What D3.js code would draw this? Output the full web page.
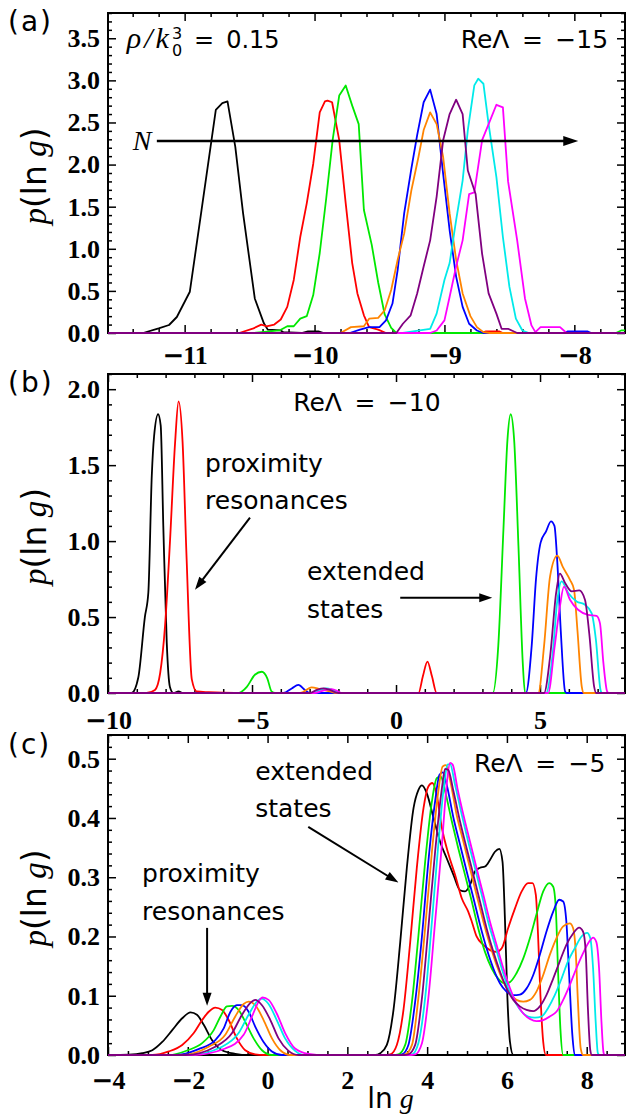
<!DOCTYPE html>
<html>
<head>
<meta charset="utf-8">
<script src="https://cdn.jsdelivr.net/npm/d3@7"></script>
<style>
  html, body { margin: 0; padding: 0; background: #fff; }
  svg { display: block; }
</style>
</head>
<body>
<svg id="chart" width="626" height="1119"></svg>
<script>
// ---------------------------------------------------------------------------
// Distributions p(ln g) for increasing system size N (black -> magenta).
// Each series is a list of [ln g, p(ln g)] points.
// ---------------------------------------------------------------------------
const sizeOrder = ["N1", "N2", "N3", "N4", "N5", "N6", "N7", "N8"];

// ---- (a) rho/k0^3 = 0.15, Re Lambda = -15 ----
const aBlack = [[-11.6,0],[-11.32,0],[-11.2,0.055],[-11.12,0.095],[-11.06,0.19],[-10.96,0.49],[-10.87,1.46],[-10.76,2.65],[-10.71,2.73],[-10.67,2.75],[-10.61,2.21],[-10.55,1.42],[-10.46,0.41],[-10.39,0.115],[-10.36,0.04],[-10.26,0.03],[-10.24,0.01],[-10.1,0],[-10.05,0.02],[-9.97,0.02],[-9.93,0],[-7.6,0]];
const aRed = [[-11.6,0],[-10.58,0],[-10.47,0.055],[-10.41,0.1],[-10.37,0.08],[-10.31,0.1],[-10.26,0.16],[-10.21,0.31],[-10.16,0.63],[-10.11,1.14],[-10.06,1.54],[-10.01,2.01],[-9.96,2.62],[-9.92,2.75],[-9.9,2.76],[-9.865,2.74],[-9.81,2.29],[-9.76,1.54],[-9.71,0.83],[-9.67,0.47],[-9.62,0.21],[-9.58,0.07],[-9.51,0.04],[-9.45,0],[-8.72,0],[-8.68,0.02],[-8.58,0.02],[-8.55,0],[-7.6,0]];
const aGreen = [[-11.6,0],[-10.47,0],[-10.27,0.03],[-10.21,0.08],[-10.16,0.08],[-10.11,0.17],[-10.06,0.2],[-10.01,0.45],[-9.96,0.95],[-9.91,1.6],[-9.86,2.3],[-9.81,2.82],[-9.76,2.94],[-9.71,2.7],[-9.66,2.48],[-9.62,1.46],[-9.56,1.05],[-9.51,0.6],[-9.46,0.22],[-9.41,0.06],[-9.37,0],[-7.68,0],[-7.64,0.03],[-7.6,0.03]];
const aBlue = [[-11.6,0],[-9.73,0],[-9.65,0.04],[-9.58,0.07],[-9.5,0.07],[-9.45,0.15],[-9.4,0.35],[-9.36,0.75],[-9.31,1.42],[-9.255,1.95],[-9.21,2.35],[-9.16,2.74],[-9.11,2.89],[-9.06,2.6],[-9.01,1.89],[-8.96,1.22],[-8.91,0.67],[-8.86,0.31],[-8.81,0.11],[-8.75,0.03],[-8.7,0],[-8.08,0],[-8.05,0.02],[-7.9,0.02],[-7.87,0],[-7.6,0]];
const aOrange = [[-11.6,0],[-9.8,0],[-9.72,0.07],[-9.62,0.08],[-9.58,0.17],[-9.51,0.18],[-9.46,0.27],[-9.41,0.51],[-9.36,0.87],[-9.31,1.18],[-9.255,1.69],[-9.2,2.09],[-9.16,2.41],[-9.11,2.62],[-9.06,2.48],[-9.01,2.09],[-8.96,1.42],[-8.91,0.87],[-8.86,0.47],[-8.8,0.2],[-8.75,0.07],[-8.7,0.01],[-8.65,0],[-7.6,0]];
const aPurple = [[-11.6,0],[-9.37,0],[-9.32,0.11],[-9.26,0.21],[-9.21,0.47],[-9.16,0.79],[-9.11,1.1],[-9.06,1.62],[-9.01,2.29],[-8.96,2.6],[-8.91,2.77],[-8.86,2.6],[-8.82,1.93],[-8.76,1.65],[-8.71,0.94],[-8.66,0.47],[-8.6,0.23],[-8.56,0.05],[-8.51,0.05],[-8.44,0],[-7.6,0]];
const aCyan = [[-11.6,0],[-9.32,0],[-9.19,0.03],[-9.11,0.05],[-9.06,0.23],[-9.0,0.63],[-8.96,0.83],[-8.91,1.34],[-8.86,1.81],[-8.82,2.41],[-8.77,2.94],[-8.74,3.02],[-8.7,2.96],[-8.66,2.48],[-8.6,1.85],[-8.55,1.14],[-8.5,0.55],[-8.45,0.17],[-8.4,0.03],[-8.35,0],[-7.6,0]];
const aMagenta = [[-11.6,0],[-9.11,0],[-9.06,0.03],[-9.0,0.15],[-8.96,0.43],[-8.91,0.79],[-8.86,1.1],[-8.81,1.65],[-8.77,1.67],[-8.71,2.29],[-8.66,2.48],[-8.6,2.71],[-8.55,2.68],[-8.51,1.8],[-8.44,1.1],[-8.38,0.41],[-8.33,0.09],[-8.3,0.01],[-8.26,0.07],[-8.11,0.07],[-8.06,0],[-7.6,0]];

// ---- (b) Re Lambda = -10 ----
const bBlack = [[-10,0],[-9.18,0],[-8.95,0.1],[-8.72,0.5],[-8.6,0.66],[-8.48,1.43],[-8.4,1.69],[-8.26,1.835],[-8.17,1.76],[-8.08,1.1],[-7.96,0.33],[-7.85,0.04],[-7.73,0],[-7.55,0.01],[-7.4,0],[8,0]];
const bRed = [[-10,0],[-8.66,0],[-8.37,0.02],[-8.19,0.13],[-8.02,0.44],[-7.85,0.99],[-7.67,1.65],[-7.55,1.92],[-7.41,1.65],[-7.27,0.88],[-7.09,0.09],[-6.92,0.01],[-6.5,0.005],[-5.6,0],[0.78,0],[0.93,0.108],[1.09,0.207],[1.25,0.108],[1.41,0],[8,0]];
const bGreen = [[-10,0],[-5.47,0],[-5.18,0.04],[-4.9,0.12],[-4.66,0.14],[-4.47,0.097],[-4.32,0.01],[-4.2,0],[3.36,0],[3.55,0.31],[3.73,1.08],[3.87,1.67],[3.98,1.835],[4.1,1.67],[4.25,0.97],[4.4,0.2],[4.48,0],[8,0]];
const bBlue = [[-10,0],[-3.91,0],[-3.62,0.03],[-3.39,0.053],[-3.16,0.02],[-2.99,0],[4.51,0],[4.71,0.31],[4.86,0.75],[5.02,0.99],[5.21,1.064],[5.38,1.13],[5.5,1.1],[5.6,0.86],[5.72,0.41],[5.87,0.01],[5.92,0],[8,0]];
const bOrange = [[-10,0],[-3.33,0],[-2.93,0.037],[-2.64,0.025],[-2.29,0.01],[-2.06,0],[4.94,0],[5.14,0.31],[5.35,0.77],[5.6,0.904],[5.79,0.83],[6.04,0.745],[6.18,0.68],[6.3,0.41],[6.45,0.04],[6.52,0],[8,0]];
const bPurple = [[-10,0],[-3.0,0],[-2.75,0.02],[-2.52,0.03],[-2.3,0.02],[-2.0,0],[5.14,0],[5.35,0.24],[5.56,0.66],[5.69,0.786],[5.87,0.724],[6.1,0.669],[6.36,0.675],[6.56,0.614],[6.71,0.39],[6.88,0.04],[6.95,0],[8,0]];
const bCyan = [[-10,0],[-2.9,0],[-2.65,0.02],[-2.41,0.03],[-2.2,0.02],[-1.95,0],[5.21,0],[5.44,0.26],[5.6,0.61],[5.75,0.735],[5.98,0.658],[6.27,0.603],[6.56,0.581],[6.79,0.526],[6.94,0.35],[7.1,0.02],[7.15,0],[8,0]];
const bMagenta = [[-10,0],[-2.85,0],[-2.5,0.018],[-2.24,0.025],[-2.05,0.015],[-1.9,0],[5.28,0],[5.51,0.31],[5.69,0.57],[5.83,0.7],[6.04,0.614],[6.32,0.548],[6.67,0.515],[6.96,0.508],[7.08,0.46],[7.2,0.198],[7.33,0.01],[7.38,0],[8,0]];

// ---- (c) Re Lambda = -5 ----
const cBlack = [[-4,0],[-3.475,0.0006],[-3.14,0.003],[-2.89,0.008],[-2.64,0.022],[-2.39,0.042],[-2.14,0.062],[-1.93,0.072],[-1.77,0.068],[-1.6,0.051],[-1.39,0.025],[-1.14,0.008],[-0.81,0.002],[-0.475,0],[2.7,0],[2.825,0.003],[2.99,0.017],[3.16,0.078],[3.325,0.19],[3.49,0.315],[3.66,0.417],[3.78,0.447],[3.87,0.455],[3.99,0.442],[4.16,0.4],[4.325,0.36],[4.49,0.332],[4.66,0.304],[4.825,0.278],[4.95,0.276],[5.075,0.287],[5.2,0.31],[5.325,0.316],[5.45,0.318],[5.575,0.329],[5.7,0.343],[5.81,0.348],[5.89,0.326],[5.95,0.23],[6.01,0.1],[6.075,0.023],[6.16,0],[9,0]];
const cRed = [[-4,0],[-2.89,0],[-2.475,0.006],[-2.14,0.017],[-1.85,0.037],[-1.64,0.059],[-1.475,0.073],[-1.31,0.08],[-1.14,0.076],[-0.975,0.059],[-0.77,0.028],[-0.56,0.008],[-0.31,0.001],[-0.1,0],[2.95,0],[3.075,0.001],[3.24,0.017],[3.41,0.078],[3.575,0.19],[3.74,0.315],[3.91,0.417],[4.03,0.453],[4.13,0.459],[4.24,0.439],[4.37,0.383],[4.53,0.34],[4.7,0.304],[4.87,0.264],[5.03,0.242],[5.12,0.225],[5.24,0.2],[5.41,0.186],[5.575,0.177],[5.74,0.174],[5.87,0.18],[6.03,0.214],[6.2,0.247],[6.37,0.276],[6.53,0.29],[6.64,0.29],[6.725,0.27],[6.78,0.203],[6.84,0.101],[6.91,0.022],[6.975,0],[9,0]];
const cGreen = [[-4,0],[-2.475,0],[-2.0,0.008],[-1.64,0.02],[-1.35,0.042],[-1.18,0.065],[-1.02,0.082],[-0.89,0.083],[-0.725,0.076],[-0.56,0.056],[-0.35,0.028],[-0.14,0.008],[0.11,0],[3.15,0],[3.28,0.001],[3.45,0.017],[3.62,0.09],[3.78,0.2],[3.95,0.326],[4.12,0.428],[4.24,0.467],[4.34,0.47],[4.45,0.445],[4.62,0.394],[4.78,0.349],[4.95,0.304],[5.12,0.259],[5.28,0.214],[5.45,0.174],[5.62,0.146],[5.78,0.129],[5.95,0.121],[6.075,0.123],[6.24,0.138],[6.41,0.163],[6.575,0.197],[6.74,0.237],[6.91,0.276],[7.06,0.29],[7.16,0.284],[7.225,0.248],[7.28,0.146],[7.34,0.045],[7.41,0],[9,0]];
const cBlue = [[-4,0],[-2.31,0],[-1.73,0.01],[-1.31,0.025],[-1.1,0.045],[-0.93,0.073],[-0.77,0.084],[-0.64,0.084],[-0.475,0.073],[-0.31,0.048],[-0.1,0.022],[0.11,0.006],[0.36,0],[3.25,0],[3.37,0.001],[3.53,0.017],[3.7,0.09],[3.87,0.2],[4.03,0.326],[4.2,0.428],[4.31,0.473],[4.39,0.477],[4.49,0.456],[4.66,0.4],[4.825,0.355],[4.99,0.31],[5.16,0.265],[5.325,0.22],[5.49,0.18],[5.66,0.146],[5.825,0.121],[5.99,0.107],[6.16,0.101],[6.325,0.102],[6.49,0.112],[6.66,0.135],[6.825,0.169],[6.99,0.208],[7.16,0.242],[7.31,0.262],[7.41,0.259],[7.49,0.225],[7.56,0.135],[7.64,0.034],[7.7,0],[9,0]];
const cOrange = [[-4,0],[-2.14,0],[-1.475,0.014],[-1.06,0.034],[-0.81,0.065],[-0.6,0.086],[-0.475,0.09],[-0.31,0.084],[-0.1,0.059],[0.11,0.028],[0.32,0.008],[0.57,0],[3.35,0],[3.45,0.001],[3.62,0.017],[3.78,0.096],[3.95,0.214],[4.12,0.343],[4.28,0.445],[4.39,0.487],[4.475,0.489],[4.575,0.464],[4.74,0.405],[4.91,0.36],[5.075,0.315],[5.24,0.27],[5.41,0.225],[5.575,0.186],[5.74,0.152],[5.91,0.124],[6.075,0.104],[6.24,0.093],[6.41,0.09],[6.575,0.093],[6.74,0.107],[6.91,0.135],[7.075,0.169],[7.24,0.197],[7.41,0.217],[7.575,0.222],[7.66,0.214],[7.725,0.174],[7.78,0.09],[7.85,0.011],[7.91,0],[9,0]];
const cPurple = [[-4,0],[-2.06,0],[-1.31,0.014],[-0.89,0.037],[-0.64,0.068],[-0.43,0.088],[-0.31,0.093],[-0.14,0.084],[0.07,0.059],[0.275,0.028],[0.525,0.007],[0.775,0],[3.42,0],[3.53,0.001],[3.7,0.017],[3.87,0.096],[4.03,0.214],[4.2,0.343],[4.37,0.45],[4.45,0.483],[4.53,0.481],[4.66,0.445],[4.825,0.394],[4.99,0.349],[5.16,0.304],[5.325,0.259],[5.49,0.214],[5.66,0.174],[5.825,0.141],[5.99,0.113],[6.16,0.093],[6.325,0.082],[6.49,0.076],[6.66,0.074],[6.825,0.082],[6.99,0.101],[7.16,0.129],[7.325,0.158],[7.49,0.186],[7.66,0.205],[7.81,0.215],[7.91,0.208],[7.975,0.174],[8.03,0.079],[8.09,0.008],[8.13,0],[9,0]];
const cCyan = [[-4,0],[-1.98,0],[-1.14,0.014],[-0.725,0.037],[-0.475,0.068],[-0.27,0.09],[-0.16,0.095],[0.025,0.086],[0.23,0.059],[0.44,0.028],[0.69,0.007],[0.94,0],[3.5,0],[3.62,0.001],[3.78,0.02],[3.95,0.096],[4.12,0.225],[4.28,0.355],[4.425,0.456],[4.51,0.49],[4.575,0.491],[4.7,0.456],[4.87,0.405],[5.03,0.36],[5.2,0.315],[5.37,0.27],[5.53,0.225],[5.7,0.186],[5.87,0.146],[6.03,0.113],[6.2,0.09],[6.37,0.073],[6.53,0.065],[6.7,0.063],[6.87,0.065],[7.03,0.079],[7.2,0.101],[7.37,0.129],[7.53,0.158],[7.7,0.18],[7.87,0.2],[8.01,0.206],[8.09,0.197],[8.16,0.146],[8.225,0.056],[8.28,0.003],[8.32,0],[9,0]];
const cMagenta = [[-4,0],[-1.89,0],[-1.06,0.011],[-0.6,0.034],[-0.39,0.065],[-0.225,0.09],[-0.125,0.097],[0.025,0.093],[0.23,0.07],[0.44,0.037],[0.69,0.011],[1.025,0.002],[1.44,0],[3.58,0],[3.7,0.001],[3.87,0.02],[4.03,0.096],[4.2,0.225],[4.37,0.355],[4.49,0.456],[4.575,0.493],[4.64,0.49],[4.76,0.45],[4.91,0.405],[5.075,0.36],[5.24,0.315],[5.41,0.27],[5.575,0.225],[5.74,0.186],[5.91,0.146],[6.075,0.113],[6.24,0.087],[6.41,0.07],[6.575,0.061],[6.74,0.057],[6.91,0.059],[7.075,0.065],[7.24,0.073],[7.41,0.093],[7.575,0.118],[7.74,0.146],[7.91,0.172],[8.06,0.191],[8.16,0.198],[8.24,0.191],[8.31,0.146],[8.37,0.056],[8.425,0.003],[8.46,0],[9,0]];

const seriesA = [aBlack, aRed, aGreen, aBlue, aOrange, aPurple, aCyan, aMagenta];
const seriesB = [bBlack, bRed, bGreen, bBlue, bOrange, bPurple, bCyan, bMagenta];
const seriesC = [cBlack, cRed, cGreen, cBlue, cOrange, cPurple, cCyan, cMagenta];

// ---- tick labels ----
const xTicksA = [-11, -10, -9, -8];
const yTicksA = [0, 0.5, 1, 1.5, 2, 2.5, 3, 3.5];
const xTicksB = [-10, -5, 0, 5];
const yTicksB = [0, 0.5, 1, 1.5, 2];
const xTicksC = [-4, -2, 0, 2, 4, 6, 8];
const yTicksC = [0, 0.1, 0.2, 0.3, 0.4, 0.5];

// ---- line colours, one per N ----
const lineColors = ["#000000", "#ff0000", "#00e800", "#0000ff", "#ff8400", "#800080", "#00eaea", "#ff00ff"];
// stacking order of the curves (purple plotted last)
const drawOrder = [0, 1, 2, 3, 4, 6, 7, 5];

// ---------------------------------------------------------------------------
const svg = d3.select("#chart");
const LEFT = 108, RIGHT = 625;
const serifFont = "'Liberation Serif', 'Times New Roman', serif";
const sansFont = "'DejaVu Sans', sans-serif";

const panels = [
  { id: "a", series: seriesA, top: 13, bottom: 333, xDomain: [-11.59, -7.61], yDomain: [0, 3.8],
    xTicks: xTicksA, yTicks: yTicksA, xMinor: 0.2, yMinor: 0.1, curve: d3.curveLinear, width: 1.8, pad: 13 },
  { id: "b", series: seriesB, top: 374, bottom: 693, xDomain: [-10, 7.95], yDomain: [0, 2.1],
    xTicks: xTicksB, yTicks: yTicksB, xMinor: 1, yMinor: 0.1, curve: d3.curveMonotoneX, width: 1.8, pad: 18 },
  { id: "c", series: seriesC, top: 735, bottom: 1055, xDomain: [-4, 8.96], yDomain: [0, 0.54],
    xTicks: xTicksC, yTicks: yTicksC, xMinor: 0.5, yMinor: 0.02, curve: d3.curveMonotoneX, width: 1.8, pad: 16 }
];

function stepValues(domain, step) {
  const lo = Math.ceil(domain[0] / step - 1e-9), hi = Math.floor(domain[1] / step + 1e-9);
  return d3.range(lo, hi + 1).map(i => +(i * step).toFixed(6));
}

// tick text with a long bold minus sign
function minusLabel(sel) {
  sel.each(function (d) {
    const t = d3.select(this);
    t.text(null);
    if (d < 0) {
      t.append("tspan").attr("font-family", sansFont).attr("font-weight", "bold").text("\u2212");
      t.append("tspan").attr("dx", -1).text(Math.abs(d));
    } else {
      t.append("tspan").text(d);
    }
  });
}

function arrow(g, x1, y1, x2, y2, w, headLen, headHalf) {
  const dx = x2 - x1, dy = y2 - y1, L = Math.hypot(dx, dy);
  const ux = dx / L, uy = dy / L;
  const bx = x2 - ux * headLen, by = y2 - uy * headLen;
  g.append("line").attr("x1", x1).attr("y1", y1).attr("x2", bx + ux * 2).attr("y2", by + uy * 2)
    .attr("stroke", "#000").attr("stroke-width", w);
  g.append("path")
    .attr("d", `M${x2},${y2}L${bx - uy * headHalf},${by + ux * headHalf}L${bx + uy * headHalf},${by - ux * headHalf}Z`)
    .attr("fill", "#000");
}

function yAxisTitle(g, cx, cy) {
  const t = g.append("text")
    .attr("transform", `translate(${cx},${cy}) rotate(-90)`)
    .attr("text-anchor", "middle")
    .attr("font-size", 33);
  t.append("tspan").attr("font-family", serifFont).attr("font-style", "italic").text("p");
  t.append("tspan").attr("font-family", sansFont).text("(ln\u2005");
  t.append("tspan").attr("font-family", serifFont).attr("font-style", "italic").text("g");
  t.append("tspan").attr("font-family", sansFont).text(")");
}

const scales = {};

panels.forEach(p => {
  const g = svg.append("g").attr("class", "panel-" + p.id);
  const x = d3.scaleLinear().domain(p.xDomain).range([LEFT, RIGHT]);
  const y = d3.scaleLinear().domain(p.yDomain).range([p.bottom, p.top]);
  scales[p.id] = { x, y, g };

  // frame
  g.append("rect").attr("x", LEFT).attr("y", p.top).attr("width", RIGHT - LEFT).attr("height", p.bottom - p.top)
    .attr("fill", "none").attr("stroke", "#000").attr("stroke-width", 2);

  const styleAxis = a => {
    a.select(".domain").remove();
    a.selectAll("line").attr("stroke-width", 1.5);
    a.attr("font-family", serifFont).attr("font-size", 26).attr("font-weight", "bold");
  };

  const xMinor = stepValues(p.xDomain, p.xMinor).filter(v => !p.xTicks.some(t => Math.abs(t - v) < 1e-6));
  const yMinor = stepValues(p.yDomain, p.yMinor).filter(v => !p.yTicks.some(t => Math.abs(t - v) < 1e-6));

  // bottom
  g.append("g").attr("transform", `translate(0,${p.bottom})`)
    .call(d3.axisBottom(x).tickValues(p.xTicks).tickSize(-8).tickPadding(p.pad)).call(styleAxis)
    .selectAll(".tick text").call(minusLabel);
  g.append("g").attr("transform", `translate(0,${p.bottom})`)
    .call(d3.axisBottom(x).tickValues(xMinor).tickSize(-4).tickFormat("")).call(styleAxis);
  // top
  g.append("g").attr("transform", `translate(0,${p.top})`)
    .call(d3.axisTop(x).tickValues(p.xTicks).tickSize(-8).tickFormat("")).call(styleAxis);
  g.append("g").attr("transform", `translate(0,${p.top})`)
    .call(d3.axisTop(x).tickValues(xMinor).tickSize(-4).tickFormat("")).call(styleAxis);
  // left
  g.append("g").attr("transform", `translate(${LEFT},0)`)
    .call(d3.axisLeft(y).tickValues(p.yTicks).tickSize(-8).tickPadding(8).tickFormat(d3.format(".1f"))).call(styleAxis);
  g.append("g").attr("transform", `translate(${LEFT},0)`)
    .call(d3.axisLeft(y).tickValues(yMinor).tickSize(-4).tickFormat("")).call(styleAxis);
  // right
  g.append("g").attr("transform", `translate(${RIGHT},0)`)
    .call(d3.axisRight(y).tickValues(p.yTicks).tickSize(-8).tickFormat("")).call(styleAxis);
  g.append("g").attr("transform", `translate(${RIGHT},0)`)
    .call(d3.axisRight(y).tickValues(yMinor).tickSize(-4).tickFormat("")).call(styleAxis);

  // curves
  const clipId = "clip-" + p.id;
  svg.append("defs").append("clipPath").attr("id", clipId)
    .append("rect").attr("x", LEFT).attr("y", p.top - 2).attr("width", RIGHT - LEFT).attr("height", p.bottom - p.top + 3);
  const line = d3.line().x(d => x(d[0])).y(d => y(d[1])).curve(p.curve);
  g.append("g").attr("clip-path", `url(#${clipId})`)
    .selectAll("path").data(drawOrder).join("path")
    .attr("d", i => line(p.series[i]))
    .attr("fill", "none")
    .attr("stroke", i => lineColors[i])
    .attr("stroke-width", p.width)
    .attr("stroke-linejoin", "round");

  // axis title
  yAxisTitle(g, 46, (p.top + p.bottom) / 2 + 3);
});

// ---- panel letters ----
const panelLetters = [["(a)", 31], ["(b)", 392], ["(c)", 754]];
panelLetters.forEach(([t, yb]) => {
  svg.append("text").attr("x", 8).attr("y", yb).attr("font-family", sansFont).attr("font-size", 28)
    .attr("letter-spacing", 2).text(t);
});

// ---- annotations, (a) ----
{
  const { x, y, g } = scales.a;
  const t = g.append("text").attr("x", x(-11.445)).attr("y", y(3.38)).attr("font-size", 24).attr("font-family", sansFont);
  t.append("tspan").attr("font-family", serifFont).attr("font-style", "italic").attr("font-size", 30)
    .attr("letter-spacing", 3).text("\u03c1/k");
  t.append("tspan").attr("font-size", 16).attr("dy", 8).text("0");
  t.append("tspan").attr("font-size", 16).attr("dx", -10.2).attr("dy", -17).text("3");
  t.append("tspan").attr("dy", 9).text("\u2002=\u20020.15");

  g.append("text").attr("x", x(-7.74)).attr("y", y(3.38)).attr("text-anchor", "end")
    .attr("font-family", sansFont).attr("font-size", 25).text("Re\u039b\u2002=\u2002\u221215");

  g.append("text").attr("x", x(-11.255)).attr("y", y(2.17)).attr("text-anchor", "end")
    .attr("font-family", serifFont).attr("font-style", "italic").attr("font-size", 28).text("N");
  arrow(g, x(-11.214), y(2.28), x(-7.97), y(2.28), 2.6, 15, 5);
}

// ---- annotations, (b) ----
{
  const { x, y, g } = scales.b;
  g.append("text").attr("x", x(-3.57)).attr("y", y(1.855))
    .attr("font-family", sansFont).attr("font-size", 25).text("Re\u039b\u2002=\u2002\u221210");
  const note = (txt, xv, yv) => g.append("text").attr("x", x(xv)).attr("y", y(yv))
    .attr("font-family", sansFont).attr("font-size", 25).text(txt);
  note("proximity", -6.63, 1.452);
  note("resonances", -6.63, 1.208);
  arrow(g, x(-5.07), y(1.155), x(-6.98), y(0.68), 2, 13, 4.5);
  note("extended", -3.09, 0.746);
  note("states", -3.09, 0.495);
  arrow(g, x(0.146), y(0.627), x(3.34), y(0.627), 2, 13, 4.5);
}

// ---- annotations, (c) ----
{
  const { x, y, g } = scales.c;
  g.append("text").attr("x", x(8.47)).attr("y", y(0.478)).attr("text-anchor", "end")
    .attr("font-family", sansFont).attr("font-size", 25).text("Re\u039b\u2002=\u2002\u22125");
  const note = (txt, xv, yv) => g.append("text").attr("x", x(xv)).attr("y", y(yv))
    .attr("font-family", sansFont).attr("font-size", 25).text(txt);
  note("extended", -0.31, 0.4645);
  note("states", -0.31, 0.402);
  arrow(g, x(1.02), y(0.385), x(3.28), y(0.291), 2, 13, 4.5);
  note("proximity", -3.147, 0.292);
  note("resonances", -3.147, 0.228);
  arrow(g, x(-1.516), y(0.2145), x(-1.516), y(0.083), 2, 13, 4.5);

  // x-axis title
  const t = g.append("text").attr("x", x(3.08)).attr("y", 1108).attr("text-anchor", "middle").attr("font-size", 28);
  t.append("tspan").attr("font-family", sansFont).text("ln\u2005");
  t.append("tspan").attr("font-family", serifFont).attr("font-style", "italic").text("g");
}
</script>
</body>
</html>
